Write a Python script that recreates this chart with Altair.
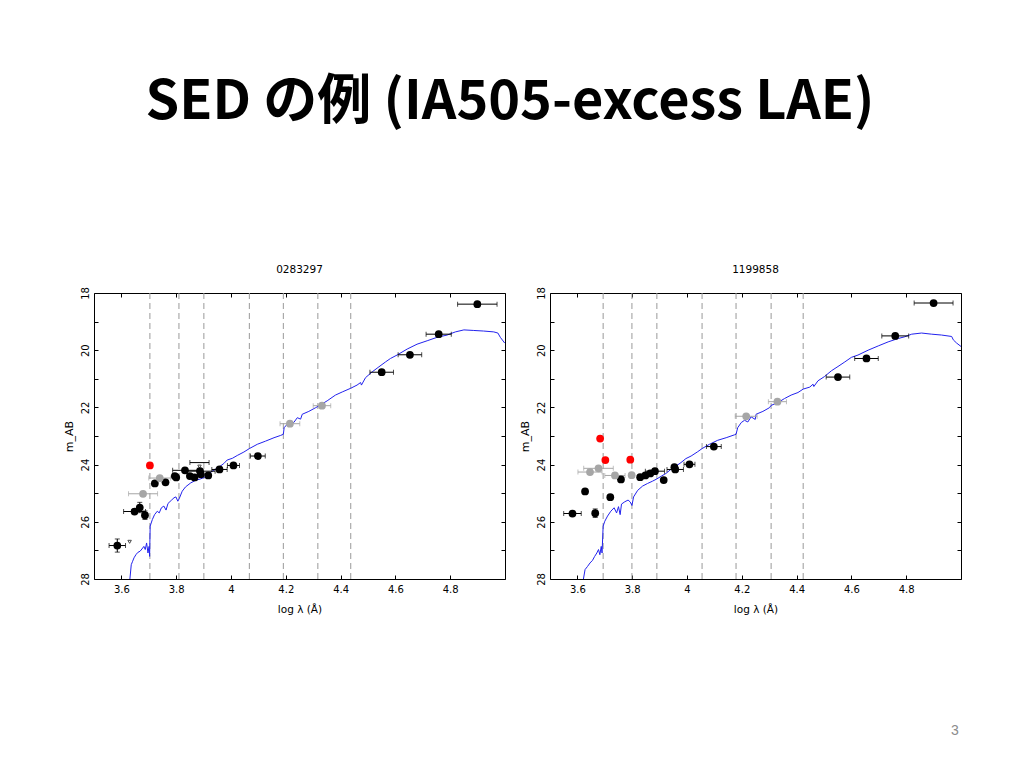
import altair as alt
import pandas as pd

SLIDE_TITLE = "SED の例 (IA505-excess LAE)"
PAGE_NUMBER = "3"

X_DOMAIN = [3.5, 5.0]
Y_DOMAIN = [18, 28]
X_TICKS = [3.6, 3.8, 4.0, 4.2, 4.4, 4.6, 4.8]
Y_TICKS = [18, 19, 20, 21, 22, 23, 24, 25, 26, 27, 28]

# ---------------- panel 1 : 0283297 ----------------
P1_NAME = "0283297"
P1_FILTER_LINES = [3.704, 3.810, 3.901, 4.067, 4.191, 4.317, 4.437]

P1_BLACK_X = [3.585, 3.648, 3.667, 3.686, 3.722, 3.761, 3.795, 3.800, 3.832, 3.850, 3.867,
              3.887, 3.890, 3.917, 3.958, 4.009, 4.098, 4.550, 4.653, 4.758, 4.899]
P1_BLACK_Y = [26.83, 25.64, 25.50, 25.77, 24.66, 24.62, 24.40, 24.45, 24.20, 24.40, 24.45,
              24.23, 24.34, 24.38, 24.17, 24.03, 23.70, 20.77, 20.16, 19.44, 18.39]
P1_BLACK_XERR = [0.030, 0.040, 0.0, 0.0, 0.0, 0.0, 0.0, 0.0, 0.045, 0.0, 0.0,
                 0.055, 0.0, 0.0, 0.028, 0.022, 0.027, 0.043, 0.043, 0.046, 0.072]
P1_BLACK_YERR = [0.23, 0.0, 0.18, 0.15, 0.0, 0.0, 0.0, 0.0, 0.0, 0.0, 0.0,
                 0.0, 0.0, 0.0, 0.0, 0.0, 0.0, 0.0, 0.0, 0.0, 0.0]
P1_GRAY_X = [3.679, 3.740, 4.215, 4.332]
P1_GRAY_Y = [25.02, 24.47, 22.57, 21.94]
P1_GRAY_XERR = [0.053, 0.040, 0.036, 0.032]
P1_RED_X = [3.704]
P1_RED_Y = [24.03]
P1_LIMIT_X = [3.630, 3.885]
P1_LIMIT_Y = [26.56, 23.93]
P1_LIMIT_XERR = [0.0, 0.035]

P1_MODEL_X = [3.631, 3.636, 3.641, 3.646, 3.653, 3.660, 3.668, 3.675, 3.682, 3.687, 3.692,
              3.697, 3.701, 3.703, 3.705, 3.713, 3.721, 3.731, 3.738, 3.746, 3.755, 3.763,
              3.770, 3.782, 3.792, 3.799, 3.806, 3.811, 3.822, 3.834, 3.853, 3.871, 3.889,
              3.904, 3.919, 3.938, 3.956, 3.974, 3.986, 4.005, 4.023, 4.047, 4.067, 4.096,
              4.126, 4.157, 4.181, 4.191, 4.194, 4.205, 4.217, 4.229, 4.242, 4.254, 4.260,
              4.284, 4.309, 4.327, 4.351, 4.381, 4.406, 4.437, 4.460, 4.473, 4.476, 4.491,
              4.515, 4.540, 4.564, 4.582, 4.606, 4.643, 4.679, 4.716, 4.752, 4.789, 4.819,
              4.850, 4.886, 4.922, 4.959, 4.974, 4.983, 4.999]
P1_MODEL_Y = [28.00, 27.50, 27.38, 27.26, 27.15, 27.07, 27.03, 26.95, 26.86, 26.97, 26.74,
              27.09, 26.86, 27.21, 26.15, 25.92, 25.75, 25.63, 25.69, 25.51, 25.45, 25.59,
              25.36, 25.25, 25.16, 25.13, 25.28, 25.19, 24.93, 24.78, 24.64, 24.55, 24.50,
              24.44, 24.31, 24.19, 24.09, 23.96, 23.84, 23.78, 23.68, 23.56, 23.44, 23.29,
              23.18, 23.06, 22.98, 22.94, 22.71, 22.59, 22.50, 22.53, 22.36, 22.41, 22.24,
              22.14, 22.01, 21.91, 21.77, 21.57, 21.46, 21.33, 21.22, 21.13, 21.22, 20.96,
              20.76, 20.58, 20.41, 20.29, 20.17, 19.96, 19.79, 19.67, 19.55, 19.47, 19.36,
              19.29, 19.31, 19.33, 19.36, 19.40, 19.55, 19.75]

# ---------------- panel 2 : 1199858 ----------------
P2_NAME = "1199858"
P2_FILTER_LINES = [3.694, 3.799, 3.890, 4.055, 4.179, 4.307, 4.424]

P2_BLACK_X = [3.582, 3.628, 3.665, 3.720, 3.759, 3.829, 3.848, 3.866, 3.883, 3.915, 3.954,
              3.957, 4.009, 4.098, 4.551, 4.655, 4.760, 4.900]
P2_BLACK_Y = [25.71, 24.94, 25.70, 25.14, 24.52, 24.44, 24.38, 24.31, 24.23, 24.54, 24.09,
              24.17, 23.99, 23.37, 20.94, 20.29, 19.50, 18.35]
P2_BLACK_XERR = [0.032, 0.0, 0.0, 0.0, 0.0, 0.0, 0.0, 0.0, 0.035, 0.0, 0.0,
                 0.030, 0.020, 0.027, 0.043, 0.043, 0.049, 0.071]
P2_BLACK_YERR = [0.0, 0.0, 0.15, 0.0, 0.0, 0.0, 0.0, 0.0, 0.0, 0.0, 0.0,
                 0.0, 0.0, 0.0, 0.0, 0.0, 0.0, 0.0]
P2_GRAY_X = [3.646, 3.677, 3.737, 3.798, 4.216, 4.330]
P2_GRAY_Y = [24.26, 24.13, 24.38, 24.37, 22.31, 21.80]
P2_GRAY_XERR = [0.044, 0.054, 0.037, 0.0, 0.040, 0.033]
P2_RED_X = [3.683, 3.702, 3.793]
P2_RED_Y = [23.09, 23.84, 23.83]

P2_MODEL_X = [3.622, 3.628, 3.637, 3.646, 3.655, 3.663, 3.671, 3.677, 3.682, 3.687, 3.690,
              3.694, 3.700, 3.710, 3.722, 3.734, 3.743, 3.750, 3.756, 3.761, 3.773, 3.785,
              3.793, 3.799, 3.805, 3.820, 3.838, 3.856, 3.874, 3.890, 3.907, 3.923, 3.941,
              3.960, 3.978, 3.996, 4.015, 4.039, 4.055, 4.082, 4.112, 4.143, 4.173, 4.179,
              4.185, 4.198, 4.210, 4.222, 4.234, 4.249, 4.252, 4.277, 4.301, 4.307, 4.332,
              4.356, 4.380, 4.405, 4.424, 4.448, 4.460, 4.463, 4.478, 4.502, 4.527, 4.551,
              4.576, 4.600, 4.624, 4.661, 4.698, 4.734, 4.771, 4.795, 4.820, 4.856, 4.893,
              4.929, 4.966, 4.972, 4.984, 5.000]
P2_MODEL_Y = [28.00, 27.67, 27.56, 27.44, 27.35, 27.21, 27.09, 26.97, 27.15, 26.86, 27.09,
              26.15, 25.98, 25.80, 25.63, 25.51, 25.69, 25.47, 25.75, 25.38, 25.30, 25.24,
              25.31, 25.43, 25.13, 24.90, 24.75, 24.66, 24.58, 24.50, 24.40, 24.31, 24.17,
              24.05, 23.93, 23.79, 23.70, 23.55, 23.44, 23.29, 23.15, 23.06, 22.96, 22.94,
              22.71, 22.53, 22.45, 22.51, 22.33, 22.42, 22.24, 22.14, 22.01, 21.93, 21.83,
              21.69, 21.57, 21.48, 21.36, 21.29, 21.19, 21.27, 21.07, 20.92, 20.72, 20.57,
              20.41, 20.25, 20.17, 20.00, 19.85, 19.71, 19.59, 19.53, 19.44, 19.40, 19.44,
              19.47, 19.52, 19.64, 19.75, 19.87]

W, H = 411, 286
FONT = "DejaVu Sans"
KIND_DOMAIN = ["black", "gray", "red"]
KIND_RANGE = ["#000000", "#a6a6a6", "#ff0000"]


def points_frame(bx, by, bxe, bye, gx, gy, gxe, rx, ry):
    rows = []
    for x, y, xe, ye in zip(bx, by, bxe, bye):
        rows.append({"x": x, "y": y, "xerr": xe, "yerr": ye, "kind": "black"})
    for x, y, xe in zip(gx, gy, gxe):
        rows.append({"x": x, "y": y, "xerr": xe, "yerr": 0.0, "kind": "gray"})
    for x, y in zip(rx, ry):
        rows.append({"x": x, "y": y, "xerr": 0.0, "yerr": 0.0, "kind": "red"})
    return pd.DataFrame(rows)


xscale = alt.Scale(domain=X_DOMAIN, nice=False, zero=False)
yscale = alt.Scale(domain=Y_DOMAIN, reverse=True, nice=False, zero=False)
xaxis = alt.Axis(values=X_TICKS, format=".1~f", title="log λ (Å)", grid=True,
                 gridDash=[4, H - 8], gridColor="black", gridOpacity=1, gridWidth=1,
                 ticks=False, domain=False, labelPadding=5, titlePadding=10,
                 labelFontSize=10, titleFontSize=10.5)
yaxis = alt.Axis(values=Y_TICKS, labelExpr="datum.value % 2 == 0 ? datum.label : ''",
                 labelAngle=270, title="m_AB", grid=True, gridDash=[4, W - 8],
                 gridColor="black", gridOpacity=1, gridWidth=1, ticks=False, domain=False,
                 labelPadding=4, titlePadding=6, labelFontSize=10, titleFontSize=11)


def X(field):
    return alt.X(field, type="quantitative", scale=xscale, axis=xaxis)


def Y(field):
    return alt.Y(field, type="quantitative", scale=yscale, axis=yaxis)


kind_color = alt.Color("kind:N", scale=alt.Scale(domain=KIND_DOMAIN, range=KIND_RANGE), legend=None)


def panel(name, lines, pts, model_x, model_y, limits=None, page=None):
    lines_df = pd.DataFrame({"x": lines})
    model_df = pd.DataFrame({"x": model_x, "y": model_y, "i": list(range(len(model_x)))})

    vlines = alt.Chart(lines_df).mark_rule(color="#999999", strokeDash=[6, 4], strokeWidth=1).encode(
        x=X("x"))
    model = alt.Chart(model_df).mark_line(color="#2222ee", strokeWidth=1, clip=True).encode(
        x=X("x"), y=Y("y"), order="i:Q")

    base = alt.Chart(pts)
    xe = base.transform_filter("datum.xerr > 0").transform_calculate(
        lo="datum.x - datum.xerr", hi="datum.x + datum.xerr")
    xbar = xe.mark_rule(strokeWidth=1).encode(x=X("lo"), x2="hi:Q", y=Y("y"), color=kind_color)
    xcap = xe.transform_fold(["lo", "hi"], as_=["end", "v"]).mark_tick(
        orient="vertical", size=5, thickness=1).encode(x=X("v"), y=Y("y"), color=kind_color)
    ye = base.transform_filter("datum.yerr > 0").transform_calculate(
        lo="datum.y - datum.yerr", hi="datum.y + datum.yerr")
    ybar = ye.mark_rule(strokeWidth=1).encode(x=X("x"), y=Y("lo"), y2="hi:Q", color=kind_color)
    ycap = ye.transform_fold(["lo", "hi"], as_=["end", "v"]).mark_tick(
        orient="horizontal", size=5, thickness=1).encode(x=X("x"), y=Y("v"), color=kind_color)
    dots = base.mark_circle(size=60, opacity=1).encode(x=X("x"), y=Y("y"), color=kind_color)

    layers = [vlines, model, xbar, xcap, ybar, ycap, dots]

    if limits is not None:
        lx, ly, lxe = limits
        ldf = pd.DataFrame({"x": lx, "y": ly, "xerr": lxe})
        lb = alt.Chart(ldf)
        lxb = lb.transform_filter("datum.xerr > 0").transform_calculate(
            lo="datum.x - datum.xerr", hi="datum.x + datum.xerr")
        layers.append(lxb.mark_rule(strokeWidth=1, color="black").encode(x=X("lo"), x2="hi:Q", y=Y("y")))
        layers.append(lxb.transform_fold(["lo", "hi"], as_=["end", "v"]).mark_tick(
            orient="vertical", size=5, thickness=1, color="black").encode(x=X("v"), y=Y("y")))
        layers.append(lb.mark_point(shape="triangle-down", size=12, filled=False, color="black",
                                    strokeWidth=1, yOffset=4).encode(x=X("x"), y=Y("y")))

    if page is not None:
        pdf = pd.DataFrame({"t": [page]})
        layers.append(alt.Chart(pdf).mark_text(color="#8c8c8c", fontSize=14, font="Liberation Sans",
                                               align="center", baseline="middle").encode(
            text="t:N", x=alt.value(405), y=alt.value(438)))

    return alt.layer(*layers).properties(
        width=W, height=H,
        title=alt.TitleParams(name, fontSize=10.5, font=FONT, fontWeight="normal",
                              color="black", offset=11),
    )


p1 = panel(P1_NAME, P1_FILTER_LINES,
           points_frame(P1_BLACK_X, P1_BLACK_Y, P1_BLACK_XERR, P1_BLACK_YERR,
                        P1_GRAY_X, P1_GRAY_Y, P1_GRAY_XERR, P1_RED_X, P1_RED_Y),
           P1_MODEL_X, P1_MODEL_Y, limits=(P1_LIMIT_X, P1_LIMIT_Y, P1_LIMIT_XERR))
p2 = panel(P2_NAME, P2_FILTER_LINES,
           points_frame(P2_BLACK_X, P2_BLACK_Y, P2_BLACK_XERR, P2_BLACK_YERR,
                        P2_GRAY_X, P2_GRAY_Y, P2_GRAY_XERR, P2_RED_X, P2_RED_Y),
           P2_MODEL_X, P2_MODEL_Y, page=PAGE_NUMBER)

chart = alt.hconcat(p1, p2, spacing=12).properties(
    title=alt.TitleParams(SLIDE_TITLE, fontSize=54, font="Noto Sans CJK JP", fontWeight="bold",
                          color="black", anchor="middle", dx=-2, offset=135),
    padding={"left": 54, "top": 67, "right": 5, "bottom": 5},
    background="white",
).configure_view(stroke="black", strokeWidth=1).configure_axis(
    labelFont=FONT, titleFont=FONT, labelColor="black", titleColor="black",
    titleFontWeight="normal")

chart.save("out.html", embed_options={"renderer": "svg", "actions": False})
